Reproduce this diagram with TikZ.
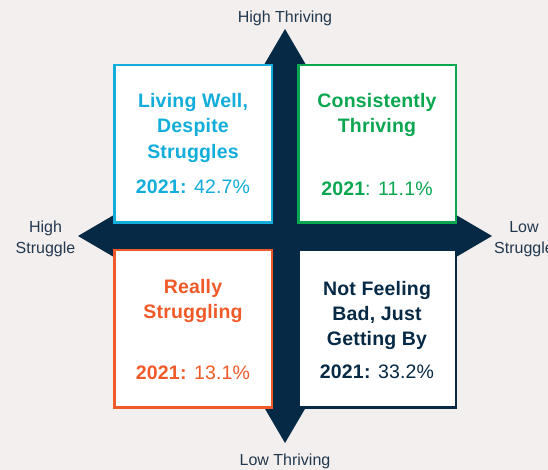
\documentclass[tikz,border=0pt]{standalone}
\usepackage{fontspec}
\setmainfont{Liberation Sans}
\definecolor{bgc}{HTML}{F2EFEE}
\definecolor{navy}{HTML}{062A46}
\definecolor{cyanc}{HTML}{12ADDA}
\definecolor{greenc}{HTML}{0BA650}
\definecolor{orangec}{HTML}{F05A28}
\definecolor{axisc}{HTML}{22384F}
\begin{document}
\begin{tikzpicture}[x=1pt,y=-1pt,
  quad/.style={draw=#1, fill=white, line width=2.5pt, minimum width=157.5pt, minimum height=157.5pt, inner sep=0pt},
  ttl/.style={text=#1, font=\fontsize{19.5}{22}\selectfont\bfseries\addfontfeature{LetterSpace=1}, anchor=base, inner sep=0pt},
  val/.style={text=#1, font=\fontsize{19.5}{22}\selectfont\addfontfeature{LetterSpace=1}, anchor=base, inner sep=0pt},
  axlab/.style={text=axisc, font=\fontsize{16}{18}\selectfont, anchor=base, inner sep=0pt}]
\clip (0,0) rectangle (548,470);
\fill[bgc] (0,0) rectangle (548,470);
% cross of arrows
\fill[navy] (285,29) -- (237,111) -- (271,111) -- (271,361) -- (237,361) -- (285,443)
  -- (333,361) -- (299,361) -- (299,111) -- (333,111) -- cycle;
\fill[navy] (78,236) -- (160,188) -- (160,222) -- (410,222) -- (410,188) -- (492,236)
  -- (410,284) -- (410,250) -- (160,250) -- (160,284) -- cycle;
% quadrants
\node[quad=cyanc] (tl) at (193,144) {};
\node[quad=greenc] (tr) at (377,144) {};
\node[quad=orangec] (bl) at (193,328.5) {};
\node[quad=navy] (br) at (377,328.5) {};
% top-left
\node[ttl=cyanc] (tla) at (193,108) {Living Well,};
\node[ttl=cyanc] (tlb) at (193,133) {Despite};
\node[ttl=cyanc] (tlc) at (193,159) {Struggles};
\node[val=cyanc] (tlv) at (193,194) {{\bfseries 2021:} 42.7\%};
% top-right
\node[ttl=greenc] (tra) at (377,108) {Consistently};
\node[ttl=greenc] (trb) at (377,133) {Thriving};
\node[val=greenc] (trv) at (377,196) {{\bfseries 2021}: 11.1\%};
% bottom-left
\node[ttl=orangec] (bla) at (193,293) {Really};
\node[ttl=orangec] (blb) at (193,318) {Struggling};
\node[val=orangec] (blv) at (193,379) {{\bfseries 2021:} 13.1\%};
% bottom-right
\node[ttl=navy] (bra) at (377,295) {Not Feeling};
\node[ttl=navy] (brb) at (377,320) {Bad, Just};
\node[ttl=navy] (brc) at (377,345) {Getting By};
\node[val=navy] (brv) at (377,378) {{\bfseries 2021:} 33.2\%};
% axis labels
\node[axlab] (ht) at (285,22.5) {High Thriving};
\node[axlab] (lt) at (285,465) {Low Thriving};
\node[axlab] (hs1) at (45.5,233) {High};
\node[axlab] (hs2) at (45.5,253) {Struggle};
\node[axlab] (ls1) at (524,233) {Low};
\node[axlab] (ls2) at (524,253) {Struggle};
\end{tikzpicture}
\end{document}
